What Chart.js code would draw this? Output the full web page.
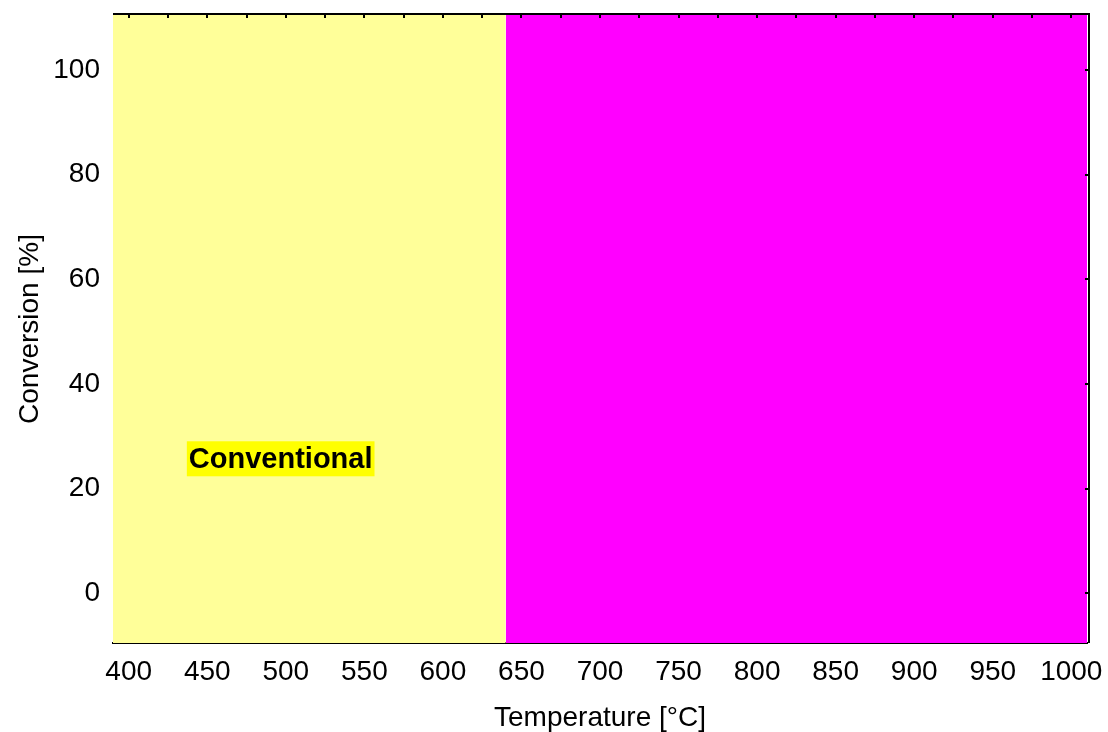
<!DOCTYPE html>
<html>
<head>
<meta charset="utf-8">
<script src="https://cdn.jsdelivr.net/npm/chart.js@4.4.1/dist/chart.umd.min.js"></script>
<style>
    html, body { margin: 0; padding: 0; background: #fff; }
    #wrap { width: 1108px; height: 732px; }
</style>
</head>
<body>
<div id="wrap"><canvas id="chart"></canvas></div>
<script>
// --- DANE ---

// Obszary temperatur (tło wykresu)
const regionNames = ['Conventional', 'Microwave'];
const regionFrom = [390, 640];
const regionTo = [640, 1010];
const regionColors = ['#ffff99', '#ff00ff'];

// Osie
const xRange = [390, 1010];
const yRange = [-9.5, 110.5];
const xTicks = [400, 450, 500, 550, 600, 650, 700, 750, 800, 850, 900, 950, 1000];
const xMinorTicks = [400, 425, 450, 475, 500, 525, 550, 575, 600, 625, 650, 675, 700, 725, 750, 775, 800, 825, 850, 875, 900, 925, 950, 975, 1000];
const yTicks = [0, 20, 40, 60, 80, 100];

// Etykieta w obszarze
const labelText = 'Conventional';
const labelX = 437;
const labelY = 25.7;

const FONT = "'Liberation Sans', Arial, sans-serif";

// Ramka (górna i prawa krawędź) z krótkimi kreskami do środka + etykieta
const framePlugin = {
    id: 'frame',
    afterDatasetsDraw(chart) {
        const { ctx, chartArea: a, scales: { x, y } } = chart;
        ctx.save();
        ctx.strokeStyle = '#000';
        ctx.lineWidth = 2;
        ctx.beginPath();
        ctx.moveTo(a.left, a.top - 1);
        ctx.lineTo(a.right + 2, a.top - 1);
        ctx.lineTo(a.right + 2, a.bottom);
        xMinorTicks.forEach(v => {
            const px = Math.round(x.getPixelForValue(v));
            ctx.moveTo(px, a.top - 1);
            ctx.lineTo(px, a.top + 3);
        });
        yTicks.forEach(v => {
            const py = Math.round(y.getPixelForValue(v));
            ctx.moveTo(a.right + 2, py);
            ctx.lineTo(a.right - 2, py);
        });
        ctx.stroke();

        // Etykieta "Conventional" na żółtym tle
        ctx.font = "bold 29px " + FONT;
        const w = ctx.measureText(labelText).width;
        const lx = x.getPixelForValue(labelX);
        const ly = y.getPixelForValue(labelY);
        ctx.fillStyle = '#ffff00';
        ctx.fillRect(lx, ly - 17.5, w + 4, 35);
        ctx.fillStyle = '#000';
        ctx.textBaseline = 'middle';
        ctx.textAlign = 'left';
        ctx.fillText(labelText, lx + 2, ly + 1);
        ctx.restore();
    }
};

const datasets = regionNames.map((name, i) => ({
    label: name,
    data: [{ x: regionFrom[i], y: yRange[1] }, { x: regionTo[i], y: yRange[1] }],
    backgroundColor: regionColors[i],
    borderWidth: 0,
    pointRadius: 0,
    fill: 'start'
}));

new Chart(document.getElementById('chart'), {
    type: 'line',
    data: { datasets: datasets },
    options: {
        responsive: true,
        maintainAspectRatio: false,
        animation: false,
        layout: { padding: { top: 15, right: 21, left: 0, bottom: 0 } },
        plugins: {
            legend: { display: false },
            tooltip: { enabled: false }
        },
        scales: {
            x: {
                type: 'linear',
                min: xRange[0],
                max: xRange[1],
                afterBuildTicks: s => { s.ticks = xTicks.map(v => ({ value: v })); },
                afterFit: s => { s.height = 89; s.paddingLeft = 0; s.paddingRight = 0; },
                grid: { display: false, drawTicks: false },
                border: { display: true, color: '#000', width: 2 },
                ticks: {
                    color: '#000',
                    font: { family: FONT, size: 28 },
                    padding: 12,
                    maxRotation: 0,
                    callback: v => String(v)
                },
                title: {
                    display: true,
                    text: 'Temperature [°C]',
                    color: '#000',
                    font: { family: FONT, size: 28 },
                    padding: { top: 0, bottom: -3 }
                }
            },
            y: {
                min: yRange[0],
                max: yRange[1],
                afterBuildTicks: s => { s.ticks = yTicks.map(v => ({ value: v })); },
                afterFit: s => { s.width = 113; s.paddingTop = 0; s.paddingBottom = 0; },
                grid: { display: false, drawTicks: false },
                border: { display: false },
                ticks: { color: '#000', font: { family: FONT, size: 28 }, padding: 13 },
                title: {
                    display: true,
                    text: 'Conversion [%]',
                    color: '#000',
                    font: { family: FONT, size: 28 },
                    padding: 13
                }
            }
        }
    },
    plugins: [framePlugin]
});
</script>
</body>
</html>
